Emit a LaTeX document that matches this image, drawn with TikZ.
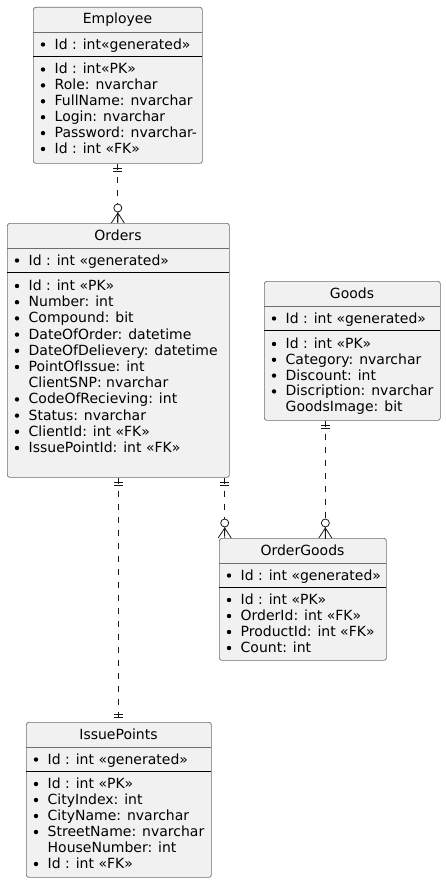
\documentclass[tikz,border=0pt]{standalone}
\usepackage{fontspec}
\setmainfont{DejaVu Sans}
\usetikzlibrary{positioning}
\usetikzlibrary{decorations.markings}
\definecolor{boxfill}{HTML}{F1F1F1}
\definecolor{boxline}{HTML}{6E6E6E}
\definecolor{relline}{HTML}{181818}
\tikzset{entity/.style = {draw=boxline, fill=boxfill, line width=0.7pt,
                          rounded corners=2.5pt, anchor=north west,
                          inner sep=0pt}}
\tikzset{title/.style = {anchor=base, inner sep=0pt,
                         font=\fontsize{14pt}{16pt}\selectfont}}
\tikzset{field/.style = {anchor=base west, inner sep=0pt,
                         font=\fontsize{14pt}{16pt}\selectfont}}
\tikzset{titlesep/.style = {draw=boxline, line width=0.7pt}}
\tikzset{fieldsep/.style = {draw=black, line width=1pt}}
\tikzset{rel/.style = {draw=relline, line width=0.8pt,
                       dash pattern=on 6pt off 7pt}}
\tikzset{onestart/.style = {postaction={decorate, decoration={markings,
    mark=at position 5pt with {\draw[solid] (0,-4.5pt) -- (0,4.5pt);},
    mark=at position 8pt with {\draw[solid] (0,-4.5pt) -- (0,4.5pt);}}}}}
\tikzset{oneend/.style = {postaction={decorate, decoration={markings,
    mark=at position -5pt with {\draw[solid] (0,-4.5pt) -- (0,4.5pt);},
    mark=at position -8pt with {\draw[solid] (0,-4.5pt) -- (0,4.5pt);}}}}}
\tikzset{manyend/.style = {postaction={decorate, decoration={markings,
    mark=at position -10pt with {\draw[solid] (0,0) -- (10pt,6.5pt)
                                  (0,0) -- (10pt,-6.5pt) (-1pt,0) -- (10pt,0);},
    mark=at position -15pt with {\draw[solid, fill=white] (0,0) circle (4pt);}}}}}

\begin{document}
\begin{tikzpicture}[x=1pt, y=-1pt]
  \fill[white] (0,0) rectangle (446,883);
  \useasboundingbox (0,0) rectangle (446,883);

  % Employee
  \node[entity, minimum width=169pt, minimum height=156pt] (employee) at (33,7) {};
  \node[title] (employee-title) at (117.5,24) {Employee};
  \draw[titlesep] (33,32.5) -- (202,32.5);
  \fill (43,44.5) circle (2.2pt);
  \node[field] (employee-gen) at (54.5,49) {Id : int«generated»};
  \draw[fieldsep] (33,56.5) -- (202,56.5);
  \foreach \b/\t [count=\i, evaluate=\i as \y using 74+15.9*(\i-1)] in
      {1/Id : int«PK», 1/Role: nvarchar, 1/FullName: nvarchar,
       1/Login: nvarchar, 1/Password: nvarchar-, 1/Id : int «FK»} {
    \ifnum\b=1 \fill (43,\y-4.5) circle (2.2pt); \fi
    \node[field] (employee-\i) at (54.5,\y) {\t};
  }

  % Orders
  \node[entity, minimum width=222pt, minimum height=254pt] (orders) at (7,223) {};
  \node[title] (orders-title) at (118,240) {Orders};
  \draw[titlesep] (7,248.5) -- (229,248.5);
  \fill (17,260.5) circle (2.2pt);
  \node[field] (orders-gen) at (28.5,265) {Id : int «generated»};
  \draw[fieldsep] (7,272.5) -- (229,272.5);
  \foreach \b/\t [count=\i, evaluate=\i as \y using 290.5+16.2*(\i-1)] in
      {1/Id : int «PK», 1/Number: int, 1/Compound: bit,
       1/DateOfOrder: datetime, 1/DateOfDelievery: datetime,
       1/PointOfIssue: int, 0/ClientSNP: nvarchar,
       1/CodeOfRecieving: int, 1/Status: nvarchar,
       1/ClientId: int «FK», 1/IssuePointId: int «FK»} {
    \ifnum\b=1 \fill (17,\y-4.5) circle (2.2pt); \fi
    \node[field] (orders-\i) at (28.5,\y) {\t};
  }

  % Goods
  \node[entity, minimum width=176pt, minimum height=139pt] (goods) at (264,281) {};
  \node[title] (goods-title) at (352,298) {Goods};
  \draw[titlesep] (264,306.5) -- (440,306.5);
  \fill (274,318.5) circle (2.2pt);
  \node[field] (goods-gen) at (285.5,323) {Id : int «generated»};
  \draw[fieldsep] (264,330.5) -- (440,330.5);
  \foreach \b/\t [count=\i, evaluate=\i as \y using 348.5+15.8*(\i-1)] in
      {1/Id : int «PK», 1/Category: nvarchar, 1/Discount: int,
       1/Discription: nvarchar, 0/GoodsImage: bit} {
    \ifnum\b=1 \fill (274,\y-4.5) circle (2.2pt); \fi
    \node[field] (goods-\i) at (285.5,\y) {\t};
  }

  % OrderGoods
  \node[entity, minimum width=167pt, minimum height=122pt] (ordergoods) at (219,538) {};
  \node[title] (ordergoods-title) at (302.5,555) {OrderGoods};
  \draw[titlesep] (219,563.5) -- (386,563.5);
  \fill (229,575.5) circle (2.2pt);
  \node[field] (ordergoods-gen) at (240.5,580) {Id : int «generated»};
  \draw[fieldsep] (219,587.5) -- (386,587.5);
  \foreach \b/\t [count=\i, evaluate=\i as \y using 604.5+16*(\i-1)] in
      {1/Id : int «PK», 1/OrderId: int «FK», 1/ProductId: int «FK»,
       1/Count: int} {
    \ifnum\b=1 \fill (229,\y-4.5) circle (2.2pt); \fi
    \node[field] (ordergoods-\i) at (240.5,\y) {\t};
  }

  % IssuePoints
  \node[entity, minimum width=185pt, minimum height=155pt] (issuepoints) at (26,722) {};
  \node[title] (issuepoints-title) at (118.5,739) {IssuePoints};
  \draw[titlesep] (26,747.5) -- (211,747.5);
  \fill (36,759.5) circle (2.2pt);
  \node[field] (issuepoints-gen) at (47.5,764) {Id : int «generated»};
  \draw[fieldsep] (26,771.5) -- (211,771.5);
  \foreach \b/\t [count=\i, evaluate=\i as \y using 788.5+16*(\i-1)] in
      {1/Id : int «PK», 1/CityIndex: int, 1/CityName: nvarchar,
       1/StreetName: nvarchar, 0/HouseNumber: int, 1/Id : int «FK»} {
    \ifnum\b=1 \fill (36,\y-4.5) circle (2.2pt); \fi
    \node[field] (issuepoints-\i) at (47.5,\y) {\t};
  }

  % relations
  \draw[rel, onestart, manyend] (employee.south) -- (employee.south |- orders.north);
  \draw[rel, onestart, oneend] (orders.south) -- (orders.south |- issuepoints.north);
  \draw[rel, onestart, manyend] ([xshift=-5pt]orders.south east)
    -- ([xshift=-5pt]orders.south east |- ordergoods.north);
  \draw[rel, onestart, manyend] ([xshift=-27pt]goods.south)
    -- ([xshift=-27pt]goods.south |- ordergoods.north);
\end{tikzpicture}
\end{document}
